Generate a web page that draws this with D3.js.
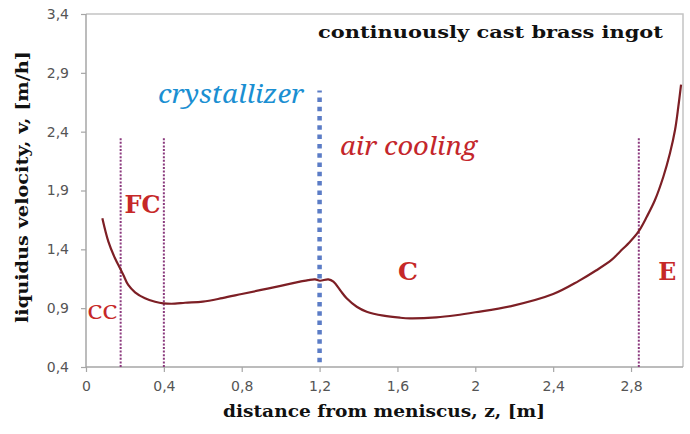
<!DOCTYPE html>
<html lang="en">
<head>
<meta charset="UTF-8">
<title>Liquidus velocity – continuously cast brass ingot</title>
<script src="https://d3js.org/d3.v7.min.js"></script>
<style>
	body, html {
		margin: 0;
		padding: 0;
		background: #fff;
		overflow: hidden;
	}
	svg { display: block; }
	.tick-label {
		font-family: "DejaVu Sans", Verdana, sans-serif;
		font-size: 14px;
		fill: #555;
	}
	.axis-title {
		font-family: "DejaVu Serif", serif;
		font-weight: bold;
		font-size: 17px;
		fill: #111;
	}
	.note-italic {
		font-family: "Noto Serif", "DejaVu Serif", serif;
		font-style: italic;
		font-size: 25px;
	}
	.note-zone {
		font-family: "DejaVu Serif", serif;
		font-weight: bold;
		font-size: 25px;
	}
	.note-small {
		font-family: "Noto Serif", "DejaVu Serif", serif;
		font-size: 19px;
	}
</style>
</head>
<body>
<svg></svg>
<script>
	// distance from meniscus z [m] and liquidus velocity v [m/h]
	const zValues = [0.084, 0.115, 0.149, 0.175, 0.192, 0.217, 0.252, 0.303, 0.355, 0.397, 0.457, 0.509, 0.60, 0.70, 0.80, 0.90, 1.00, 1.099, 1.142, 1.177, 1.202, 1.245, 1.271, 1.305, 1.339, 1.391, 1.442, 1.528, 1.613, 1.665, 1.80, 1.90, 2.00, 2.19, 2.40, 2.53, 2.62, 2.70, 2.743, 2.795, 2.838, 2.881, 2.923, 2.966, 3.000, 3.026, 3.043, 3.057];
	const vValues = [1.664, 1.465, 1.324, 1.239, 1.182, 1.097, 1.035, 0.984, 0.955, 0.941, 0.938, 0.946, 0.955, 0.985, 1.02, 1.055, 1.09, 1.125, 1.139, 1.145, 1.133, 1.145, 1.125, 1.054, 0.984, 0.912, 0.870, 0.836, 0.819, 0.814, 0.822, 0.840, 0.865, 0.92, 1.02, 1.13, 1.22, 1.31, 1.38, 1.465, 1.55, 1.677, 1.819, 2.017, 2.216, 2.414, 2.612, 2.80];

	const xTicks = [0, 0.4, 0.8, 1.2, 1.6, 2, 2.4, 2.8];
	const yTicks = [0.4, 0.9, 1.4, 1.9, 2.4, 2.9, 3.4];

	// zone boundaries
	const zoneLines = [0.178, 0.40, 2.84];
	const zoneTop = 2.35;
	const crystallizerEnd = 1.2;
	const crystallizerTop = 2.75;

	const labels = [
		{text: "crystallizer", z: 0.37, v: 2.64, kind: "blue", len: 146},
		{text: "air cooling", z: 1.305, v: 2.20, kind: "red", len: 137},
		{text: "FC", z: 0.198, v: 1.71, kind: "zone", len: 36},
		{text: "CC", z: 0.006, v: 0.81, kind: "small", len: 30},
		{text: "C", z: 1.603, v: 1.14, kind: "zone", len: 20},
		{text: "E", z: 2.94, v: 1.14, kind: "zone", len: 18}
	];

	const width = 690, height = 434;
	const margin = {top: 14, right: 7, bottom: 67, left: 86};

	const svg = d3.select("svg").attr("width", width).attr("height", height);

	const x = d3.scaleLinear().domain([0, 3.067]).range([margin.left, width - margin.right]);
	const y = d3.scaleLinear().domain([0.4, 3.4]).range([height - margin.bottom, margin.top]);

	const fmt = d => String(d).replace(".", ",");

	// frame (top and right)
	svg.append("path")
		.attr("d", `M${x(0)},${y(3.4)}H${x(3.067)}V${y(0.4)}`)
		.attr("fill", "none")
		.attr("stroke", "#c4c4c4")
		.attr("stroke-width", 1.5);

	// axes
	const xAxis = svg.append("g")
		.attr("transform", `translate(0,${y(0.4)})`)
		.call(d3.axisBottom(x).tickValues(xTicks).tickFormat(fmt).tickSize(5).tickPadding(9));
	const yAxis = svg.append("g")
		.attr("transform", `translate(${x(0)},0)`)
		.call(d3.axisLeft(y).tickValues(yTicks).tickFormat(fmt).tickSize(5).tickPadding(12));

	[xAxis, yAxis].forEach(g => {
		g.select(".domain").attr("stroke", "#a6a6a6").attr("stroke-width", 1.5);
		g.selectAll(".tick line").attr("stroke", "#a6a6a6").attr("stroke-width", 1.2);
		g.selectAll(".tick text").attr("class", "tick-label").attr("font-size", null).attr("font-family", null);
	});
	xAxis.select(".domain").attr("d", `M${x(0)},0H${x(3.067)}`);
	yAxis.select(".domain").attr("d", `M0,${y(0.4)}V${y(3.4)}`);

	// zone boundary lines
	svg.selectAll(".zone-line")
		.data(zoneLines)
		.enter().append("line")
		.attr("class", "zone-line")
		.attr("x1", d => x(d)).attr("x2", d => x(d))
		.attr("y1", y(0.4)).attr("y2", y(zoneTop))
		.attr("stroke", "#8b3a7e")
		.attr("stroke-width", 2)
		.attr("stroke-dasharray", "2 1.6");

	svg.append("line")
		.attr("x1", x(crystallizerEnd)).attr("x2", x(crystallizerEnd))
		.attr("y1", y(0.44)).attr("y2", y(crystallizerTop))
		.attr("stroke", "#5b7cc6")
		.attr("stroke-width", 4.5)
		.attr("stroke-dasharray", "4.5 4.8");

	// velocity curve
	const points = zValues.map((z, i) => [z, vValues[i]]);
	const line = d3.line()
		.x(d => x(d[0]))
		.y(d => y(d[1]))
		.curve(d3.curveCatmullRom.alpha(0.5));

	svg.append("path")
		.datum(points)
		.attr("d", line)
		.attr("fill", "none")
		.attr("stroke", "#7d1f25")
		.attr("stroke-width", 2.2);

	// annotations
	const noteStyle = {
		blue: {cls: "note-italic", fill: "#1b8fd2"},
		red: {cls: "note-italic", fill: "#c4262b"},
		zone: {cls: "note-zone", fill: "#c62828"},
		small: {cls: "note-small", fill: "#c62828"}
	};

	svg.selectAll(".note")
		.data(labels)
		.enter().append("text")
		.attr("class", d => noteStyle[d.kind].cls)
		.attr("x", d => x(d.z))
		.attr("y", d => y(d.v))
		.attr("fill", d => noteStyle[d.kind].fill)
		.attr("textLength", d => d.len)
		.attr("lengthAdjust", "spacingAndGlyphs")
		.text(d => d.text);

	// titles
	svg.append("text")
		.attr("class", "axis-title")
		.attr("x", 318).attr("y", 38)
		.attr("textLength", 345)
		.attr("lengthAdjust", "spacingAndGlyphs")
		.text("continuously cast brass ingot");

	svg.append("text")
		.attr("class", "axis-title")
		.attr("text-anchor", "middle")
		.attr("x", 384).attr("y", 417)
		.attr("textLength", 322)
		.attr("lengthAdjust", "spacingAndGlyphs")
		.text("distance from meniscus, z, [m]");

	svg.append("text")
		.attr("class", "axis-title")
		.attr("text-anchor", "middle")
		.attr("transform", `translate(28,187) rotate(-90)`)
		.attr("textLength", 272)
		.attr("lengthAdjust", "spacingAndGlyphs")
		.text("liquidus velocity, v, [m/h]");
</script>
</body>
</html>
